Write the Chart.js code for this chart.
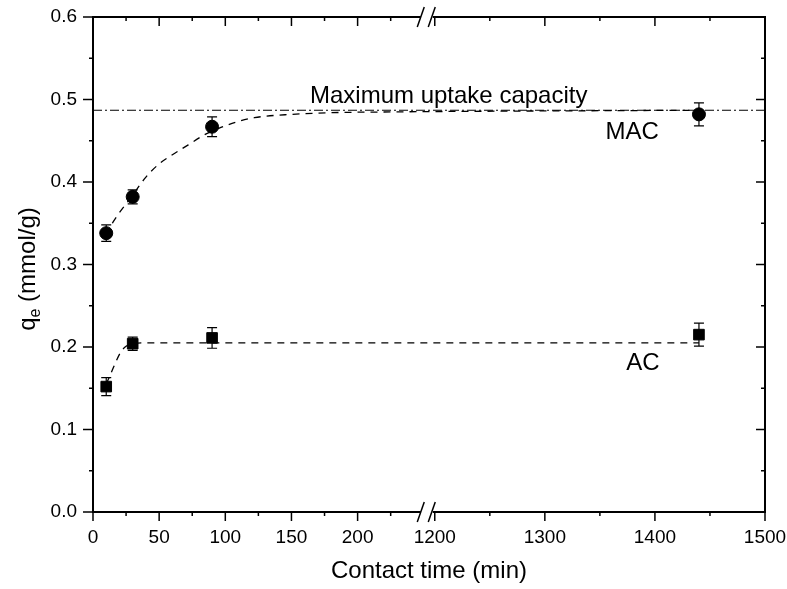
<!DOCTYPE html>
<html>
<head>
<meta charset="utf-8">
<script src="https://cdn.jsdelivr.net/npm/chart.js@4/dist/chart.umd.min.js"></script>
<style>
  body { margin: 0; background: #fff; }
  #wrap { width: 787px; height: 589px; }
</style>
</head>
<body>
<div id="wrap"><canvas id="kinetics" width="787" height="589"></canvas></div>
<script>
// measured data (contact time in min, qe in mmol/g)
const MAC_TIME = [10, 30, 90, 1440];
const MAC_QE = [0.338, 0.382, 0.467, 0.482];
const MAC_ERR = [0.010, 0.0085, 0.012, 0.014];

const AC_TIME = [10, 30, 90, 1440];
const AC_QE = [0.152, 0.204, 0.211, 0.215];
const AC_ERR = [0.011, 0.008, 0.0125, 0.014];

// fitted curves
const MAC_FIT_TIME = [10, 15, 30, 40, 50, 60, 72, 84, 95, 109, 122, 150, 180, 230, 1440];
const MAC_FIT_QE = [0.336, 0.351, 0.384, 0.406, 0.422, 0.433, 0.445, 0.457, 0.465, 0.473, 0.478, 0.482, 0.484, 0.485, 0.487];

const AC_FIT_TIME = [10, 13, 17, 21, 25, 30, 40, 1440];
const AC_FIT_QE = [0.155, 0.166, 0.181, 0.194, 0.201, 0.204, 0.205, 0.205];

const MAX_UPTAKE = 0.487;

// axis ticks
const X_MAJOR = [0, 50, 100, 150, 200, 1200, 1300, 1400, 1500];
const X_MINOR = [25, 75, 125, 175, 225, 1250, 1350, 1450];
const Y_MAJOR = [0, 0.1, 0.2, 0.3, 0.4, 0.5, 0.6];
const Y_MINOR = [0.05, 0.15, 0.25, 0.35, 0.45, 0.55];

// axis break: 250 on the left joins 1190 on the right, right part is compressed
const BREAK_FROM = 250;
const BREAK_TO = 1190;
const RIGHT_RATIO = 0.832;

const FONT = '"Liberation Sans", Arial, sans-serif';

class BrokenScale extends Chart.LinearScale {
  toU(v) {
    return v <= BREAK_FROM ? v : BREAK_FROM + (v - BREAK_TO) * RIGHT_RATIO;
  }
  fromU(u) {
    return u <= BREAK_FROM ? u : BREAK_TO + (u - BREAK_FROM) / RIGHT_RATIO;
  }
  buildTicks() {
    return X_MAJOR.map((v) => ({ value: v }));
  }
  configure() {
    super.configure();
    this._startU = this.toU(this.min);
    this._rangeU = this.toU(this.max) - this._startU;
  }
  getPixelForValue(v) {
    return this.getPixelForDecimal((this.toU(v) - this._startU) / this._rangeU);
  }
  getValueForPixel(p) {
    return this.fromU(this._startU + this.getDecimalForPixel(p) * this._rangeU);
  }
}
BrokenScale.id = 'broken';
BrokenScale.defaults = Chart.LinearScale.defaults;
Chart.register(BrokenScale);

const pts = (xs, ys) => xs.map((x, i) => ({ x, y: ys[i] }));

const errorBars = {
  id: 'errorBars',
  afterDatasetsDraw(chart) {
    const { ctx, scales: { x, y } } = chart;
    ctx.save();
    ctx.strokeStyle = '#000';
    ctx.lineWidth = 1.2;
    const draw = (xs, ys, es) => {
      xs.forEach((t, i) => {
        const px = x.getPixelForValue(t);
        const top = y.getPixelForValue(ys[i] + es[i]);
        const bot = y.getPixelForValue(ys[i] - es[i]);
        ctx.beginPath();
        ctx.moveTo(px, top); ctx.lineTo(px, bot);
        ctx.moveTo(px - 5, top); ctx.lineTo(px + 5, top);
        ctx.moveTo(px - 5, bot); ctx.lineTo(px + 5, bot);
        ctx.stroke();
      });
    };
    draw(MAC_TIME, MAC_QE, MAC_ERR);
    draw(AC_TIME, AC_QE, AC_ERR);
    ctx.restore();
  }
};

const frame = {
  id: 'frame',
  afterDraw(chart) {
    const { ctx, chartArea: a, scales: { x, y } } = chart;
    ctx.save();
    ctx.strokeStyle = '#000';
    const line = (x1, y1, x2, y2) => {
      ctx.beginPath(); ctx.moveTo(x1, y1); ctx.lineTo(x2, y2); ctx.stroke();
    };

    ctx.lineWidth = 2;
    ctx.strokeRect(a.left, a.top, a.right - a.left, a.bottom - a.top);

    ctx.lineWidth = 1.5;
    X_MAJOR.forEach((v) => {
      const px = x.getPixelForValue(v);
      line(px, a.bottom, px, a.bottom + 9);
      line(px, a.top, px, a.top + 9);
    });
    X_MINOR.forEach((v) => {
      const px = x.getPixelForValue(v);
      line(px, a.bottom, px, a.bottom + 4);
      line(px, a.top, px, a.top + 4);
    });
    Y_MAJOR.forEach((v) => {
      const py = y.getPixelForValue(v);
      line(a.left - 10, py, a.left, py);
      line(a.right - 9, py, a.right, py);
    });
    Y_MINOR.forEach((v) => {
      const py = y.getPixelForValue(v);
      line(a.left - 4, py, a.left, py);
      line(a.right - 4, py, a.right, py);
    });

    // break marks
    const bx = x.getPixelForValue(BREAK_FROM) + 3;
    [a.top, a.bottom].forEach((yy) => {
      ctx.fillStyle = '#fff';
      ctx.fillRect(bx - 6, yy - 2, 12, 4);
      line(bx - 9.5, yy + 10, bx - 2.5, yy - 10);
      line(bx + 1.5, yy + 10, bx + 8.5, yy - 10);
    });

    // annotations
    ctx.fillStyle = '#000';
    ctx.font = '24px ' + FONT;
    ctx.textBaseline = 'alphabetic';
    ctx.fillText('Maximum uptake capacity', x.getPixelForValue(164), y.getPixelForValue(0.4956));
    ctx.fillText('MAC', x.getPixelForValue(1355), y.getPixelForValue(0.4516));
    ctx.fillText('AC', x.getPixelForValue(1374), y.getPixelForValue(0.1717));

    // y title with subscript
    ctx.translate(35, 269);
    ctx.rotate(-Math.PI / 2);
    const big = '24px ' + FONT;
    const small = '16px ' + FONT;
    ctx.font = big;
    const wq = ctx.measureText('q').width;
    const rest = ' (mmol/g)';
    const wr = ctx.measureText(rest).width;
    ctx.font = small;
    const we = ctx.measureText('e').width;
    let cx = -(wq + we + wr) / 2;
    ctx.font = big;
    ctx.fillText('q', cx, 0);
    cx += wq;
    ctx.font = small;
    ctx.fillText('e', cx, 5);
    cx += we;
    ctx.font = big;
    ctx.fillText(rest, cx, 0);
    ctx.restore();
  }
};

new Chart(document.getElementById('kinetics').getContext('2d'), {
  type: 'line',
  data: {
    datasets: [
      {
        label: 'MAC',
        data: pts(MAC_TIME, MAC_QE),
        showLine: false,
        pointStyle: 'circle',
        pointRadius: 6.5,
        backgroundColor: '#000',
        borderColor: '#000'
      },
      {
        label: 'AC',
        data: pts(AC_TIME, AC_QE),
        showLine: false,
        pointStyle: 'rect',
        pointRadius: 7.5,
        backgroundColor: '#000',
        borderColor: '#000'
      },
      {
        label: 'MAC fit',
        data: pts(MAC_FIT_TIME, MAC_FIT_QE),
        borderColor: '#000',
        borderWidth: 1.3,
        borderDash: [7, 6],
        pointRadius: 0,
        cubicInterpolationMode: 'monotone'
      },
      {
        label: 'AC fit',
        data: pts(AC_FIT_TIME, AC_FIT_QE),
        borderColor: '#000',
        borderWidth: 1.3,
        borderDash: [7, 6],
        pointRadius: 0,
        cubicInterpolationMode: 'monotone'
      },
      {
        label: 'Maximum uptake capacity',
        data: pts([0, 1500], [MAX_UPTAKE, MAX_UPTAKE]),
        borderColor: '#000',
        borderWidth: 1.2,
        borderDash: [9, 3, 2, 3],
        pointRadius: 0
      }
    ]
  },
  options: {
    responsive: false,
    animation: false,
    layout: { padding: { top: 17, right: 22, left: 0, bottom: 0 } },
    plugins: {
      legend: { display: false },
      tooltip: { enabled: false }
    },
    scales: {
      x: {
        type: 'broken',
        min: 0,
        max: 1500,
        afterFit: (s) => {
          s.height = 77;
          s.paddingLeft = 0;
          s.paddingRight = 0;
        },
        grid: { display: false, drawTicks: false, tickLength: 0 },
        border: { display: false },
        ticks: {
          autoSkip: false,
          maxRotation: 0,
          padding: 14,
          color: '#000',
          font: { family: FONT, size: 19 },
          callback: (v) => String(v)
        },
        title: {
          display: true,
          text: 'Contact time (min)',
          color: '#000',
          font: { family: FONT, size: 24 },
          padding: { top: 0, bottom: 3 }
        }
      },
      y: {
        min: 0,
        max: 0.6,
        afterFit: (s) => {
          s.width = 93;
          s.paddingTop = 0;
          s.paddingBottom = 0;
        },
        afterBuildTicks: (s) => { s.ticks = Y_MAJOR.map((v) => ({ value: v })); },
        grid: { display: false, drawTicks: false, tickLength: 0 },
        border: { display: false },
        ticks: {
          padding: 16,
          color: '#000',
          font: { family: FONT, size: 19 },
          callback: (v) => v.toFixed(1)
        }
      }
    }
  },
  plugins: [errorBars, frame]
});
</script>
</body>
</html>
